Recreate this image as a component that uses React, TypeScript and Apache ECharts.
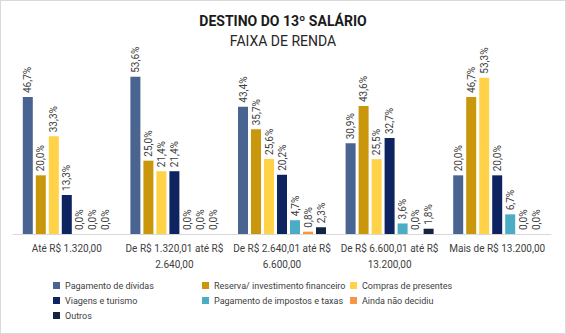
import React, { useEffect, useRef } from "react";
import * as echarts from "echarts";

const categories = [
  "Até R$ 1.320,00",
  "De R$ 1.320,01 até R$\n2.640,00",
  "De R$ 2.640,01 até R$\n6.600,00",
  "De R$ 6.600,01 até R$\n13.200,00",
  "Mais de R$ 13.200,00",
];

const seriesNames = [
  "Pagamento de dívidas",
  "Reserva/ investimento financeiro",
  "Compras de presentes",
  "Viagens e turismo",
  "Pagamento de impostos e taxas",
  "Ainda não decidiu",
  "Outros",
];

const pagamentoDividas = [46.7, 53.6, 43.4, 30.9, 20.0];
const reserva = [20.0, 25.0, 35.7, 43.6, 46.7];
const compras = [33.3, 21.4, 25.6, 25.5, 53.3];
const viagens = [13.3, 21.4, 20.2, 32.7, 20.0];
const impostos = [0.0, 0.0, 4.7, 3.6, 6.7];
const aindaNao = [0.0, 0.0, 0.8, 0.0, 0.0];
const outros = [0.0, 0.0, 2.3, 1.8, 0.0];

const seriesValues = [pagamentoDividas, reserva, compras, viagens, impostos, aindaNao, outros];
const colors = ["#4A6491", "#C9960C", "#FFD247", "#0D2460", "#4BACC6", "#F79646", "#14243F"];

const FONT = "Roboto, 'Liberation Sans', sans-serif";

export default function App() {
  const ref = useRef<HTMLDivElement>(null);
  useEffect(() => {
    document.body.style.margin = "0";
    const chart = echarts.init(ref.current!, null, { renderer: "svg" });
    const legendText = { fontFamily: FONT, fontSize: 9, color: "#404040" };
    const legendBase = {
      orient: "vertical" as const,
      top: 280,
      itemWidth: 7,
      itemHeight: 7,
      itemGap: 6,
      icon: "rect",
      textStyle: legendText,
      padding: 0,
    };
    chart.setOption({
      animation: false,
      backgroundColor: "#fff",
      color: colors,
      title: [
        {
          text: "DESTINO DO 13º SALÁRIO",
          left: "center",
          top: 8,
          textStyle: { fontFamily: FONT, fontSize: 14, fontWeight: "bold", color: "#1a1a1a" },
        },
        {
          text: "FAIXA DE RENDA",
          left: "center",
          top: 28,
          textStyle: { fontFamily: FONT, fontSize: 14, fontWeight: "normal", color: "#262626" },
        },
      ],
      legend: [
        { ...legendBase, left: 52, data: [seriesNames[0], seriesNames[3], seriesNames[6]] },
        { ...legendBase, left: 201, data: [seriesNames[1], seriesNames[4]] },
        { ...legendBase, left: 349, data: [seriesNames[2], seriesNames[5]] },
      ],
      grid: { left: 12, right: 14, top: 57, bottom: 99, containLabel: false },
      xAxis: {
        type: "category",
        data: categories,
        axisLine: { lineStyle: { color: "#d9d9d9" } },
        axisTick: { show: false },
        axisLabel: {
          fontFamily: FONT,
          fontSize: 10,
          color: "#404040",
          lineHeight: 16,
          margin: 6,
          interval: 0,
        },
      },
      yAxis: {
        type: "value",
        min: 0,
        max: 60,
        show: false,
        splitLine: { show: false },
      },
      series: seriesValues.map((vals, i) => ({
        name: seriesNames[i],
        type: "bar",
        data: vals,
        barWidth: 10,
        barGap: "30%",
        itemStyle: { color: colors[i] },
        label: {
          show: true,
          position: "top",
          rotate: 90,
          align: "left",
          verticalAlign: "middle",
          distance: 4,
          fontFamily: FONT,
          fontSize: 10,
          color: "#404040",
          formatter: (p: any) => p.value.toFixed(1).replace(".", ",") + "%",
        },
      })),
    });
    return () => chart.dispose();
  }, []);
  return (
    <div
      style={{
        width: 566,
        height: 334,
        boxSizing: "border-box",
        border: "1px solid #d9d9d9",
        background: "#fff",
      }}
    >
      <div ref={ref} style={{ width: 564, height: 332 }} />
    </div>
  );
}
